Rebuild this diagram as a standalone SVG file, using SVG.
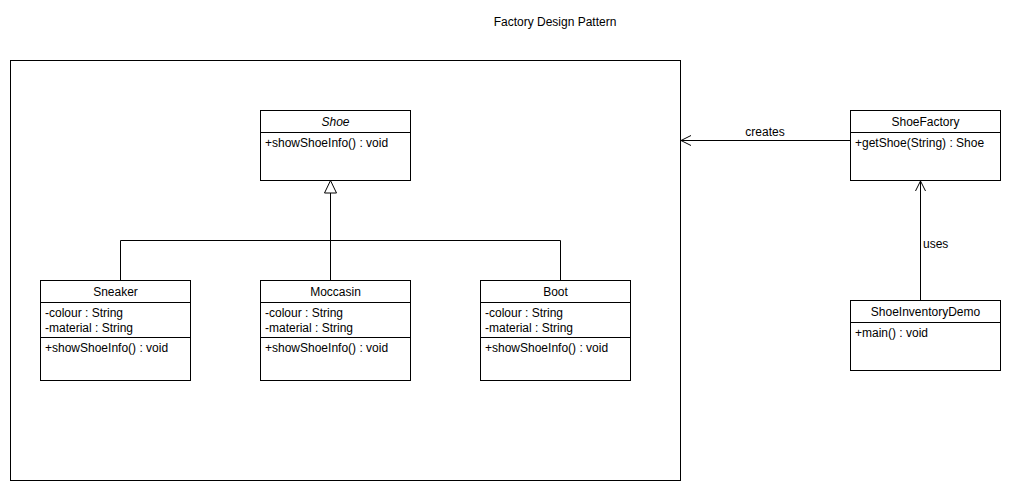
<svg xmlns="http://www.w3.org/2000/svg" width="1010" height="490" viewBox="0 0 1010 490">
<style>
.box{fill:#fff;stroke:#000;stroke-width:1}
.ln{fill:none;stroke:#000;stroke-width:1}
text{font-family:"Liberation Sans",Arial,sans-serif;font-size:12px;fill:#000}
.c{text-anchor:middle}
.i{font-style:italic}
</style>
<defs>
<marker id="open" markerWidth="12" markerHeight="12" refX="10" refY="6" orient="auto" markerUnits="userSpaceOnUse">
<path d="M0,1 L10,6 L0,11" fill="none" stroke="#000" stroke-width="1"/>
</marker>
</defs>
<rect width="1010" height="490" fill="#fff"/>
<text x="555" y="26" class="c">Factory Design Pattern</text>
<g id="frame"><rect x="10.5" y="60.5" width="670" height="420" class="box"/></g>
<g id="connectors">
<path d="M330.5,193 L330.5,240.5 M120.5,280 L120.5,240.5 L560.5,240.5 L560.5,280 M330.5,240.5 L330.5,280" class="ln"/>
<path d="M330.5,180.5 L324.5,193 L336.5,193 Z" fill="#fff" stroke="#000"/>
<path d="M850,140.5 L681,140.5" class="ln" marker-end="url(#open)"/>
<text x="765" y="136" class="c">creates</text>
<path d="M920.5,300 L920.5,181" class="ln" marker-end="url(#open)"/>
<text x="923" y="248">uses</text>
</g>
<g id="Shoe">
<rect x="260.5" y="110.5" width="150" height="70" class="box"/>
<line x1="260.5" y1="132.5" x2="410.5" y2="132.5" class="ln"/>
<text x="335.5" y="126" class="c i">Shoe</text>
<text x="265" y="147">+showShoeInfo() : void</text>
</g>
<g id="Sneaker">
<rect x="40.5" y="280.5" width="150" height="100" class="box"/>
<line x1="40.5" y1="302.5" x2="190.5" y2="302.5" class="ln"/>
<line x1="40.5" y1="337.5" x2="190.5" y2="337.5" class="ln"/>
<text x="115.5" y="296" class="c">Sneaker</text>
<text x="45" y="317">-colour : String</text>
<text x="45" y="332">-material : String</text>
<text x="45" y="352">+showShoeInfo() : void</text>
</g>
<g id="Moccasin">
<rect x="260.5" y="280.5" width="150" height="100" class="box"/>
<line x1="260.5" y1="302.5" x2="410.5" y2="302.5" class="ln"/>
<line x1="260.5" y1="337.5" x2="410.5" y2="337.5" class="ln"/>
<text x="335.5" y="296" class="c">Moccasin</text>
<text x="265" y="317">-colour : String</text>
<text x="265" y="332">-material : String</text>
<text x="265" y="352">+showShoeInfo() : void</text>
</g>
<g id="Boot">
<rect x="480.5" y="280.5" width="150" height="100" class="box"/>
<line x1="480.5" y1="302.5" x2="630.5" y2="302.5" class="ln"/>
<line x1="480.5" y1="337.5" x2="630.5" y2="337.5" class="ln"/>
<text x="555.5" y="296" class="c">Boot</text>
<text x="485" y="317">-colour : String</text>
<text x="485" y="332">-material : String</text>
<text x="485" y="352">+showShoeInfo() : void</text>
</g>
<g id="ShoeFactory">
<rect x="850.5" y="110.5" width="150" height="70" class="box"/>
<line x1="850.5" y1="132.5" x2="1000.5" y2="132.5" class="ln"/>
<text x="925.5" y="126" class="c">ShoeFactory</text>
<text x="855" y="147">+getShoe(String) : Shoe</text>
</g>
<g id="ShoeInventoryDemo">
<rect x="850.5" y="300.5" width="150" height="70" class="box"/>
<line x1="850.5" y1="322.5" x2="1000.5" y2="322.5" class="ln"/>
<text x="925.5" y="316" class="c">ShoeInventoryDemo</text>
<text x="855" y="337">+main() : void</text>
</g>
</svg>
